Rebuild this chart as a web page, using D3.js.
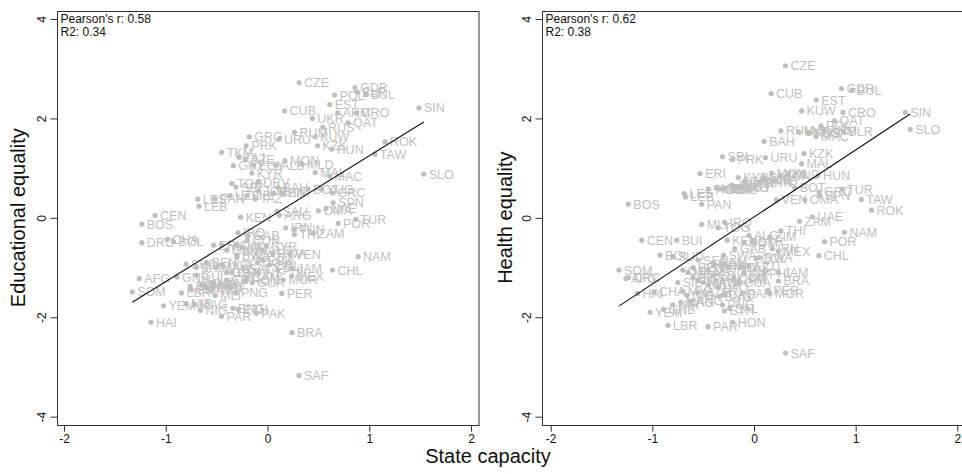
<!DOCTYPE html>
<html>
<head>
<meta charset="utf-8">
<script src="https://cdn.jsdelivr.net/npm/d3@7"></script>
<style>
  body { margin: 0; background: #fff; }
  text { font-family: "Liberation Sans", Arial, sans-serif; }
</style>
</head>
<body>
<div id="scatter"></div>
<script>
// Data
var countryCodes = ["CZE","GDR","BUL","BLR","POL","EST","ARM","CRO","CUB","UKR","QAT","RUS","SIN","RUM","KUW","URU","GRG","KZK","HUN","ROK",
  "TAW","SLO","PRK","TKM","AZE","TAJ","MON","ALB","MLD","GUY","EGY","KYR","MAL","MAC","DRV","TOG","SRI","JOR","BAH","ZIM",
  "BOT","YUG","GRC","SPN","LES","LEB","PAN","UZB","TAZ","LIB","CHN","CEN","BOS","KEN","SAU","ARG","OMA","UAE","TUR","POR",
  "IRN","TUN","THI","ZAM","DRC","AFG","SOM","CHA","BOL","BUI","YEM","HAI","GNB","LBR","SUD","NIR","MAG","NIG","PAR","BNG",
  "PAK","ETH","SAL","HON","PNG","GAB","SYR","VEN","NAM","CHL","JAM","MEX","MOR","PER","BRA","SAF","ERI","MLI","IRQ","COL",
  "RWA","ECU","DOM","GUA","NIC","GHA","SEN","MAA","GUI","CDI","NEP","CAM","LAO","MYA","INS","PHI","UGA","MZM","MAW","SIE",
  "BFO","GAM","BEN","CAO","ANG","CON","DJI","ALG","SWA","IND"];

var stateCapacity = [0.31,0.86,0.965,0.88,0.66,0.612,0.69,0.875,0.168,0.44,0.792,0.545,1.488,0.265,0.468,0.112,-0.179,0.492,0.63,1.156,
  1.055,1.536,-0.21,-0.45,-0.22,-0.28,0.172,0.084,0.34,-0.336,-0.14,-0.155,0.468,0.61,-0.09,-0.35,-0.31,-0.09,0.10,0.155,
  0.40,0.533,0.64,0.645,-0.686,-0.673,-0.515,-0.37,-0.123,-0.2,0.06,-1.105,-1.236,-0.264,0.096,0.116,0.50,0.575,0.866,0.694,
  0.179,0.26,0.264,0.448,-1.235,-1.26,-1.329,-0.985,-0.924,-0.76,-1.022,-1.145,-0.89,-0.845,-0.80,-0.80,-0.72,-0.66,-0.452,-0.34,
  -0.11,-0.29,-0.24,-0.21,-0.31,-0.19,-0.01,0.222,0.89,0.638,0.24,0.238,0.155,0.14,0.24,0.31,-0.53,-0.515,-0.29,0.02,
  0.05,-0.05,-0.10,-0.15,-0.45,-0.40,-0.55,-0.65,-0.70,-0.40,-0.55,-0.20,-0.35,-0.70,-0.10,0.10,-0.45,-0.55,-0.50,-0.75,
  -0.60,-0.40,-0.60,-0.30,-0.62,-0.20,-0.30,-0.05,-0.30,-0.25];

var eduEquality = [2.72,2.62,2.48,2.53,2.47,2.28,2.11,2.11,2.15,2.00,1.91,1.82,2.21,1.72,1.63,1.58,1.63,1.45,1.38,1.53,
  1.28,0.88,1.45,1.32,1.18,1.22,1.15,1.06,1.08,1.05,1.06,0.90,0.91,0.84,0.72,0.69,0.62,0.54,0.61,0.50,
  0.58,0.58,0.50,0.30,0.376,0.235,0.38,0.45,0.38,0.45,0.50,0.05,-0.127,0.014,0.135,0.054,0.14,0.19,-0.03,-0.11,
  -0.20,-0.23,-0.335,-0.31,-0.50,-1.22,-1.49,-0.43,-0.48,-1.38,-1.77,-2.10,-1.19,-1.51,-0.93,-1.73,-1.74,-1.86,-1.98,-1.82,
  -1.92,-1.84,-1.02,-1.26,-1.51,-0.36,-0.57,-0.73,-0.78,-1.05,-1.02,-1.17,-1.25,-1.52,-2.31,-3.17,-0.55,-1.56,-0.30,-0.95,
  -0.72,-0.85,-0.90,-1.30,-0.55,-1.10,-1.40,-1.35,-1.15,-1.25,-1.45,-1.20,-1.10,-1.00,-1.10,-1.05,-0.95,-1.30,-1.00,-1.45,
  -1.40,-0.65,-0.90,-0.80,-1.35,-0.45,-0.55,-0.65,-0.75,-0.60];

var healthEquality = [3.06,2.60,2.57,1.73,1.85,2.37,1.76,2.12,2.50,1.73,1.95,1.70,2.12,1.75,2.15,1.21,0.62,1.29,0.85,0.155,
  0.37,1.78,1.17,0.58,0.66,0.60,0.90,0.78,0.87,0.58,0.62,0.81,1.09,1.63,0.74,-0.20,1.23,0.70,1.54,-0.38,
  0.61,1.72,0.52,0.45,0.49,0.42,0.276,0.60,-1.00,0.58,0.72,-0.45,0.276,-0.45,0.82,0.76,0.36,0.02,0.58,-0.48,
  -0.62,0.85,-0.26,-0.07,-1.20,-1.22,-1.05,-1.49,-0.75,-0.45,-1.90,-1.52,-1.84,-2.16,-0.78,-1.75,-1.70,-1.56,-2.19,-1.58,
  -1.52,-1.87,-1.82,-2.10,-1.75,-0.62,-0.48,0.36,-0.29,-0.76,-1.10,-0.67,-1.52,-1.46,-1.27,-2.72,0.89,-0.13,-0.09,-0.82,
  -0.80,-0.98,-0.50,-1.30,-1.05,-0.95,-0.85,-1.10,-1.05,-1.15,-1.25,-1.25,-1.40,-1.48,-1.10,-1.12,-1.35,-1.50,-1.30,-1.30,
  -1.20,-0.90,-1.00,-1.55,-1.67,-1.20,-0.95,-0.35,-0.75,-1.00];

var xTicks = [-2, -1, 0, 1, 2];
var yTicks = [-4, -2, 0, 2, 4];

// linear fit [intercept, slope] and stats shown in the corner
var eduFit = [-0.017, 1.266];
var healthFit = [0.017, 1.349];
var eduStats = ["Pearson's r: 0.58", "R2: 0.34"];
var healthStats = ["Pearson's r: 0.62", "R2: 0.38"];

var svgWidth = 962;
var svgHeight = 474;
var pointColor = "#bfbfbf";

var svg = d3.select("#scatter")
  .append("svg")
  .attr("width", svgWidth)
  .attr("height", svgHeight);

svg.append("rect")
  .attr("width", svgWidth)
  .attr("height", svgHeight)
  .attr("fill", "#fff");

var rows = countryCodes.map(function(c, i) {
  return { code: c, cap: stateCapacity[i], edu: eduEquality[i], health: healthEquality[i] };
});

function drawPanel(opts) {
  var xScale = d3.scaleLinear().domain([-2, 2]).range([opts.x0, opts.x1]);
  var yScale = d3.scaleLinear().domain([-4, 4]).range([416.7, 19]);

  var g = svg.append("g");

  // frame
  g.append("rect")
    .attr("x", opts.frameLeft + 0.5)
    .attr("y", 11.5)
    .attr("width", opts.frameRight - opts.frameLeft)
    .attr("height", 414)
    .attr("fill", "none")
    .attr("stroke", "#333")
    .attr("stroke-width", 1);

  // axes (plain hyphen minus like the original)
  var bottomAxis = d3.axisBottom(xScale).tickValues(xTicks).tickFormat(d => String(d)).tickSize(6).tickPadding(3);
  var leftAxis = d3.axisLeft(yScale).tickValues(yTicks).tickFormat(d => String(d)).tickSize(7).tickPadding(4);

  var xa = g.append("g")
    .attr("transform", "translate(0, 425.7)")
    .call(bottomAxis);
  xa.select(".domain").remove();
  xa.selectAll("line").attr("stroke", "#333");
  xa.selectAll("text")
    .attr("font-size", "12px")
    .attr("fill", "#111")
    .attr("font-family", "Liberation Sans, Arial, sans-serif");

  var ya = g.append("g")
    .attr("transform", "translate(" + (opts.frameLeft + 0.5) + ", 0)")
    .call(leftAxis);
  ya.select(".domain").remove();
  ya.selectAll("line").attr("stroke", "#333");
  ya.selectAll("text")
    .attr("font-size", "12px")
    .attr("fill", "#111")
    .attr("font-family", "Liberation Sans, Arial, sans-serif")
    .attr("text-anchor", "middle")
    .attr("dy", null)
    .attr("x", null)
    .attr("transform", "translate(-12, 0) rotate(-90)");

  // points
  g.selectAll("circle.pt")
    .data(rows)
    .enter()
    .append("circle")
    .attr("class", "pt")
    .attr("cx", d => xScale(d.cap))
    .attr("cy", d => yScale(d[opts.key]))
    .attr("r", 2.6)
    .attr("fill", pointColor);

  g.selectAll("text.lbl")
    .data(rows)
    .enter()
    .append("text")
    .attr("class", "lbl")
    .attr("x", d => xScale(d.cap) + 5)
    .attr("y", d => yScale(d[opts.key]))
    .attr("dy", "0.36em")
    .attr("font-size", "12.5px")
    .attr("fill", pointColor)
    .text(d => d.code);

  // fitted line across the range of the data
  var xr = d3.extent(rows, d => d.cap);
  g.append("line")
    .attr("x1", xScale(xr[0]))
    .attr("y1", yScale(opts.fit[0] + opts.fit[1] * xr[0]))
    .attr("x2", xScale(xr[1]))
    .attr("y2", yScale(opts.fit[0] + opts.fit[1] * xr[1]))
    .attr("stroke", "#111")
    .attr("stroke-width", 1.1);

  // stats
  g.selectAll("text.stat")
    .data(opts.stats)
    .enter()
    .append("text")
    .attr("class", "stat")
    .attr("x", opts.frameLeft + 3.5)
    .attr("y", (d, i) => 23 + i * 13)
    .attr("font-size", "12px")
    .attr("fill", "#111")
    .text(d => d);

  // y title
  g.append("text")
    .attr("transform", "translate(" + opts.titleX + ", 217.7) rotate(-90)")
    .attr("text-anchor", "middle")
    .attr("font-size", "20px")
    .attr("fill", "#111")
    .text(opts.title);
}

drawPanel({ x0: 64, x1: 471, frameLeft: 57, frameRight: 478.5, key: "edu", fit: eduFit,
  stats: eduStats, title: "Educational equality", titleX: 25 });
drawPanel({ x0: 550.7, x1: 957.3, frameLeft: 542, frameRight: 965, key: "health", fit: healthFit,
  stats: healthStats, title: "Health equality", titleX: 511.5 });

svg.append("text")
  .attr("x", 488)
  .attr("y", 463)
  .attr("text-anchor", "middle")
  .attr("font-size", "20px")
  .attr("fill", "#111")
  .text("State capacity");
</script>
</body>
</html>
